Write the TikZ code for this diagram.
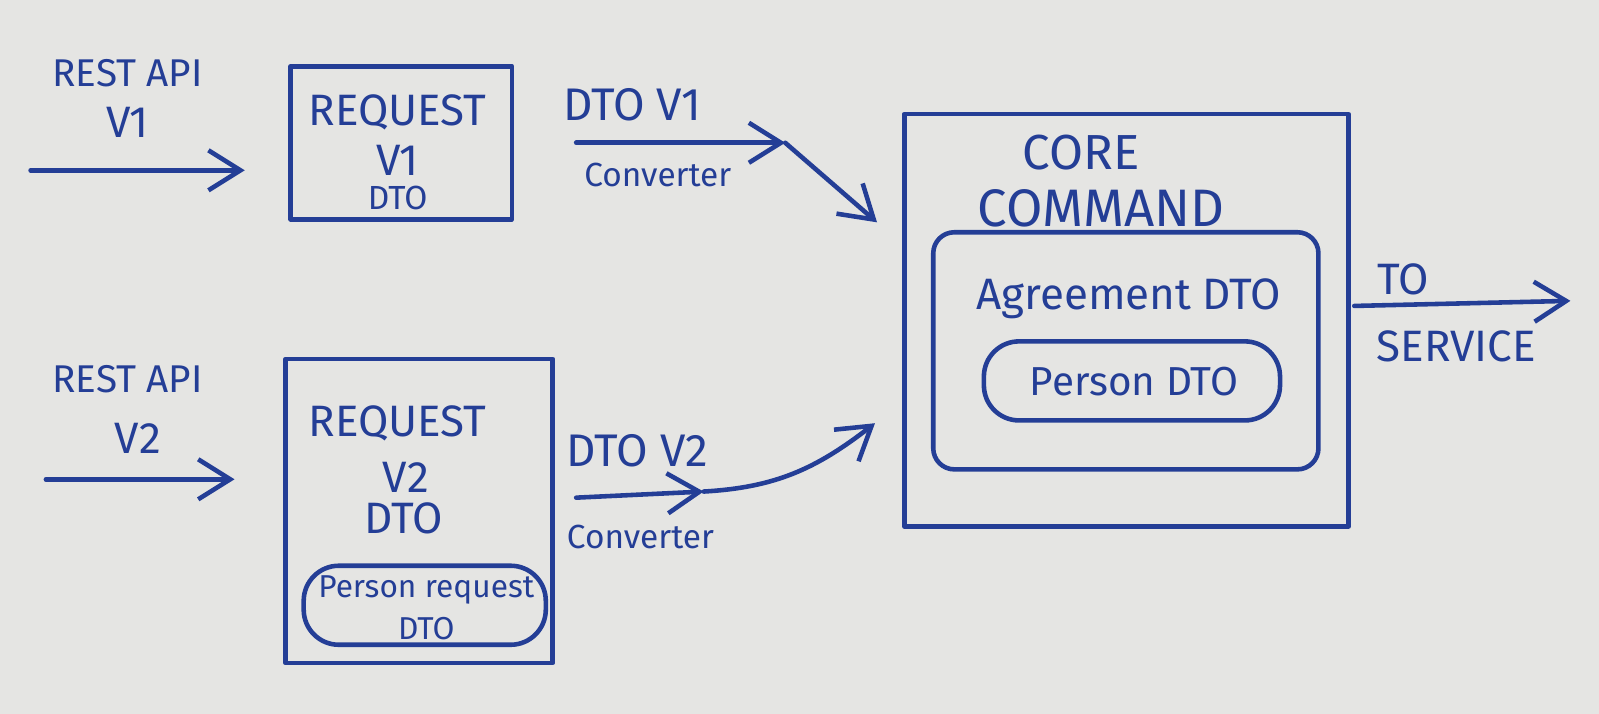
\documentclass[tikz,border=0pt]{standalone}
\usepackage{fontspec}
\setmainfont{Fira Sans}
\usetikzlibrary{arrows.meta,positioning}
\definecolor{ink}{RGB}{36,62,150}
\definecolor{paper}{RGB}{229,229,227}
\tikzset{
  ink line/.style={draw=ink, line width=1.3pt, line cap=round, line join=round},
  box/.style={ink line, rectangle, inner sep=0pt},
  flow/.style={ink line, -{Straight Barb[length=3.2mm,width=4mm]}},
  big/.style={text=ink, inner sep=0pt, font=\fontsize{12.5}{14}\selectfont, align=center},
  small/.style={text=ink, inner sep=0pt, font=\fontsize{9.5}{11}\selectfont, align=center}
}
\begin{document}
\begin{tikzpicture}[x=0.010198cm, y=-0.010198cm]
  % paper
  \fill[paper] (0,0) rectangle (1568,700);
  \useasboundingbox (0,0) rectangle (1568,700);

  % version 1 input
  \node[big, font=\fontsize{11}{13}\selectfont] (restA) at (125,72) {REST API};
  \node[big] (restAver) at (125,120) {V1};
  \coordinate (inA1) at (30,167);
  \coordinate (inA2) at (240,167);
  \draw[flow] (inA1) -- (inA2);

  \node[box, minimum width=2.21cm, minimum height=1.53cm] (reqA) at (393.5,140) {};
  \node[big] (reqAtitle) at (390,110) {REQUEST};
  \node[big] (reqAver) at (390,157) {V1};
  \node[small] (reqAdto) at (390,194) {DTO};

  \node[big, font=\fontsize{13}{15}\selectfont] (dtoA) at (620,103) {DTO V1};
  \node[small] (convA) at (645,172) {Converter};
  \coordinate (cA1) at (565,140);
  \coordinate (cA2) at (770,140);
  \coordinate (cA3) at (860,218);
  \draw[flow] (cA1) -- (cA2);
  \draw[flow] (cA2) -- (cA3);

  % version 2 input
  \node[big, font=\fontsize{11}{13}\selectfont] (restB) at (125,372) {REST API};
  \node[big] (restBver) at (135,430) {V2};
  \coordinate (inB1) at (45,470);
  \coordinate (inB2) at (230,470);
  \draw[flow] (inB1) -- (inB2);

  \node[box, minimum width=2.67cm, minimum height=3.04cm] (reqB) at (411,501) {};
  \node[big] (reqBtitle) at (390,415) {REQUEST};
  \node[big] (reqBver) at (398,468) {V2};
  \node[big] (reqBdto) at (396,508) {DTO};
  \node[box, rounded corners=10pt, minimum width=2.42cm, minimum height=0.79cm] (personReq) at (416.5,593.5) {};
  \node[small, font=\fontsize{9}{10}\selectfont] (personReqTxt) at (418,596) {Person request\\[2pt]DTO};

  \node[big, font=\fontsize{13}{15}\selectfont] (dtoB) at (625,442) {DTO V2};
  \node[small] (convB) at (628,527) {Converter};
  \coordinate (cB1) at (565,488);
  \coordinate (cB2) at (690,482);
  \coordinate (cB3) at (858,415);
  \draw[flow] (cB1) -- (cB2);
  \draw[flow] (cB2) .. controls (760,478) and (800,460) .. (cB3);

  % core command
  \node[box, minimum width=4.44cm, minimum height=4.12cm] (core) at (1104.5,314) {};
  \node[big, font=\fontsize{14}{16}\selectfont] (coreTitle) at (1060,150) {CORE};
  \node[big, font=\fontsize{15}{17}\selectfont] (coreCmd) at (1080,204) {COMMAND};
  \node[box, rounded corners=6pt, minimum width=3.85cm, minimum height=2.37cm] (agree) at (1104,344) {};
  \node[big] (agreeTxt) at (1107,293) {Agreement DTO};
  \node[box, rounded corners=10pt, minimum width=2.96cm, minimum height=0.79cm] (person) at (1110,373.5) {};
  \node[big, font=\fontsize{11.5}{13}\selectfont] (personTxt) at (1112,374) {Person DTO};

  % output
  \coordinate (out1) at (1328,300);
  \coordinate (out2) at (1540,295);
  \draw[flow] (out1) -- (out2);
  \node[big] (toTxt) at (1376,274) {TO};
  \node[big] (serviceTxt) at (1428,340) {SERVICE};
\end{tikzpicture}
\end{document}
